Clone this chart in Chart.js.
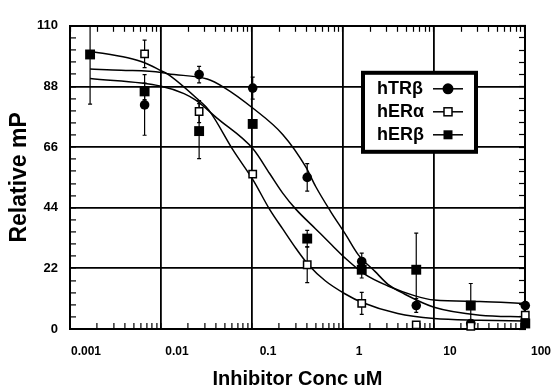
<!DOCTYPE html>
<html lang="en">
<head>
    <meta charset="UTF-8">
    <title>Relative mP vs Inhibitor Conc</title>
    <script src="https://cdn.jsdelivr.net/npm/chart.js"></script>
    <style>
        body { margin: 0; background: #fff; }
        canvas { display: block; }
    </style>
</head>
<body>
    <canvas id="inhibitionChart" width="556" height="387"></canvas>

    <script>
        // Measured points (inhibitor conc, uM)
        const concentrations = [0.001, 0.004, 0.016, 0.0625, 0.25, 1, 4, 16, 64];
        const trbMean = [null, 81.3, 92.3, 87.4, 55.0, 24.5, 8.5, 2.0, 8.5];
        const trbErr  = [0, 11, 3, 4, 5, 3, 2.5, 0, 1];
        const eraMean = [null, 99.8, 78.9, 56.2, 23.3, 9.3, 1.5, 1.0, 5.0];
        const eraErr  = [0, 5, 4, 0, 6.5, 4, 0, 0, 1.5];
        const erbMean = [99.6, 86.2, 71.8, 74.4, 32.8, 21.5, 21.5, 8.5, 2.0];
        const erbErr  = [18, 3, 10, 0, 3, 3, 13.3, 8, 0];

        // Fitted curves
        const trbCurveX = [0.001, 0.0022, 0.0061, 0.0072, 0.0196, 0.030, 0.063, 0.134, 0.241, 0.31, 0.45, 0.658, 0.918, 1.40, 1.95, 2.96, 6.29, 20.2, 64];
        const trbCurveY = [94.3, 93.9, 93.1, 92.6, 90.7, 87.7, 80.1, 70.6, 58.8, 51.7, 42.8, 34.5, 26.9, 20.9, 16.2, 12.7, 7.9, 5.0, 4.4];
        const eraCurveX = [0.001, 0.0026, 0.0040, 0.0061, 0.0072, 0.0159, 0.0204, 0.0383, 0.0632, 0.0961, 0.134, 0.188, 0.2575, 0.398, 0.658, 0.998, 2.5, 6.29, 20.2, 64];
        const eraCurveY = [100.8, 98.4, 96.6, 93.7, 92.5, 83.0, 79.5, 64.7, 54.0, 43.4, 36.3, 29.2, 23.3, 17.4, 12.7, 9.7, 5.6, 3.8, 3.2, 2.9];
        const erbCurveX = [0.001, 0.0061, 0.0109, 0.0147, 0.0252, 0.0632, 0.0961, 0.134, 0.188, 0.31, 0.47, 0.658, 1.087, 1.95, 3.81, 6.29, 20.2, 64];
        const erbCurveY = [90.9, 88.1, 85.4, 83.0, 76.5, 65.3, 56.4, 49.3, 43.4, 36.3, 30.4, 25.7, 19.8, 15.6, 12.1, 10.5, 10.0, 9.3];

        const seriesNames = ['hTRβ', 'hERα', 'hERβ'];
        const xTickLabels = [0.001, 0.01, 0.1, 1, 10, 100];
        const yTickLabels = [0, 22, 44, 66, 88, 110];

        // the printed decade labels sit ~0.2 decade right of the grid lines
        const LABEL_SHIFT = Math.pow(10, 0.197);
        const FONT = '"Liberation Sans", Arial, Helvetica, sans-serif';

        const xMinor = [];
        xTickLabels.forEach((d, i) => {
            xMinor.push(d);
            if (i < xTickLabels.length - 1) {
                for (let k = 2; k <= 9; k++) xMinor.push(d * k);
            }
        });
        const yMinor = [];
        yTickLabels.forEach((v, i) => {
            if (i < yTickLabels.length - 1) {
                const step = (yTickLabels[i + 1] - v) / 5;
                for (let j = 0; j < 5; j++) yMinor.push(j === 0 ? v : v + j * step);
            } else {
                yMinor.push(v);
            }
        });

        const toPoints = (xs, ys) => xs.map((x, i) => ({ x: x, y: ys[i] }));
        const curve = (xs, ys) => ({
            data: toPoints(xs, ys),
            borderColor: '#000',
            borderWidth: 1.5,
            pointRadius: 0,
            fill: false,
            cubicInterpolationMode: 'monotone',
            order: 5
        });
        const markers = (means, style) => Object.assign({
            data: toPoints(concentrations, means),
            showLine: false,
            borderColor: '#000',
            clip: false
        }, style);

        // vertical error bars through the scales
        const errorBars = {
            id: 'errorBars',
            beforeDatasetsDraw(chart) {
                const { ctx, chartArea } = chart;
                const x = chart.scales.x, y = chart.scales.y;
                ctx.save();
                ctx.beginPath();
                ctx.rect(chartArea.left, chartArea.top, chartArea.width, chartArea.height);
                ctx.clip();
                ctx.strokeStyle = '#000';
                ctx.lineWidth = 1.2;
                [[trbMean, trbErr], [eraMean, eraErr], [erbMean, erbErr]].forEach(([means, errs]) => {
                    concentrations.forEach((c, i) => {
                        if (means[i] === null || !errs[i]) return;
                        const px = x.getPixelForValue(c);
                        const top = y.getPixelForValue(means[i] + errs[i]);
                        const bottom = y.getPixelForValue(means[i] - errs[i]);
                        ctx.beginPath();
                        ctx.moveTo(px, top); ctx.lineTo(px, bottom);
                        ctx.moveTo(px - 2, top); ctx.lineTo(px + 2, top);
                        ctx.moveTo(px - 2, bottom); ctx.lineTo(px + 2, bottom);
                        ctx.stroke();
                    });
                });
                ctx.restore();
            }
        };

        // boxed legend inside the plot, text first then line + marker
        const boxLegend = {
            id: 'boxLegend',
            afterDraw(chart) {
                const { ctx, chartArea } = chart;
                const left = chartArea.left + 293, top = chartArea.top + 47;
                ctx.save();
                ctx.fillStyle = '#fff';
                ctx.fillRect(left, top, 113, 79);
                ctx.lineWidth = 4;
                ctx.strokeStyle = '#000';
                ctx.strokeRect(left, top, 113, 79);
                ctx.font = 'bold 18px ' + FONT;
                ctx.textBaseline = 'middle';
                seriesNames.forEach((name, i) => {
                    const ty = top + 16 + i * 23;
                    const mx = left + 85;
                    ctx.fillStyle = '#000';
                    ctx.fillText(name, left + 14, ty);
                    ctx.lineWidth = 1.5;
                    ctx.beginPath();
                    ctx.moveTo(left + 70, ty);
                    ctx.lineTo(left + 100, ty);
                    ctx.stroke();
                    if (i === 0) {
                        ctx.beginPath();
                        ctx.arc(mx, ty, 5.5, 0, Math.PI * 2);
                        ctx.fill();
                    } else if (i === 1) {
                        ctx.fillStyle = '#fff';
                        ctx.fillRect(mx - 4, ty - 4, 8, 8);
                        ctx.strokeRect(mx - 4, ty - 4, 8, 8);
                    } else {
                        ctx.fillRect(mx - 4.5, ty - 4.5, 9, 9);
                    }
                });
                ctx.restore();
            }
        };

        const decadeColor = (c) => c.tick && xTickLabels.includes(c.tick.value) ? '#000' : 'rgba(0,0,0,0)';
        const majorYColor = (c) => c.tick && yTickLabels.includes(c.tick.value) ? '#000' : 'rgba(0,0,0,0)';

        new Chart(document.getElementById('inhibitionChart'), {
            type: 'line',
            data: {
                datasets: [
                    curve(trbCurveX, trbCurveY),
                    curve(eraCurveX, eraCurveY),
                    curve(erbCurveX, erbCurveY),
                    markers(trbMean, { label: seriesNames[0], pointStyle: 'circle', pointRadius: 4.8, backgroundColor: '#000', borderWidth: 0, order: 2 }),
                    markers(eraMean, { label: seriesNames[1], pointStyle: 'rect', pointRadius: 5.2, backgroundColor: '#fff', borderWidth: 1.5, order: 1 }),
                    markers(erbMean, { label: seriesNames[2], pointStyle: 'rect', pointRadius: 7, backgroundColor: '#000', borderWidth: 0, order: 0 })
                ]
            },
            options: {
                responsive: false,
                animation: false,
                devicePixelRatio: 1,
                layout: { padding: { top: 19, left: 0, right: 0, bottom: 0 } },
                plugins: {
                    legend: { display: false },
                    tooltip: { enabled: false }
                },
                scales: {
                    // data axis: printed label positions
                    x: {
                        type: 'logarithmic',
                        display: false,
                        min: xTickLabels[0] / LABEL_SHIFT,
                        max: xTickLabels[xTickLabels.length - 1] / LABEL_SHIFT
                    },
                    // drawn axis: grid lines and inward log ticks
                    xg: {
                        type: 'logarithmic',
                        position: 'bottom',
                        min: xTickLabels[0],
                        max: xTickLabels[xTickLabels.length - 1],
                        afterBuildTicks: (s) => { s.ticks = xMinor.map(v => ({ value: v })); },
                        afterFit: (s) => { s.height = 58; },
                        border: { color: '#000', width: 2 },
                        grid: { color: decadeColor, lineWidth: 1.8, tickColor: '#000', tickWidth: 1.2, tickLength: -6 },
                        ticks: {
                            autoSkip: false,
                            maxRotation: 0,
                            padding: 21,
                            labelOffset: 16,
                            color: '#000',
                            font: { family: FONT, size: 12, weight: 'bold' },
                            callback: (v) => xTickLabels.includes(v) ? String(v) : ''
                        },
                        title: {
                            display: true,
                            text: 'Inhibitor Conc uM',
                            color: '#000',
                            font: { family: FONT, size: 20, weight: 'bold', lineHeight: 0.75 },
                            padding: { top: 0, bottom: 0 }
                        }
                    },
                    xt: {
                        type: 'logarithmic',
                        position: 'top',
                        min: xTickLabels[0],
                        max: xTickLabels[xTickLabels.length - 1],
                        afterBuildTicks: (s) => { s.ticks = xMinor.map(v => ({ value: v })); },
                        afterFit: (s) => { s.height = 0; },
                        border: { color: '#000', width: 2 },
                        grid: { drawOnChartArea: false, tickColor: '#000', tickWidth: 1.2, tickLength: -6 },
                        ticks: { display: false, autoSkip: false }
                    },
                    y: {
                        type: 'linear',
                        position: 'left',
                        min: yTickLabels[0],
                        max: yTickLabels[yTickLabels.length - 1],
                        afterBuildTicks: (s) => { s.ticks = yMinor.map(v => ({ value: v })); },
                        afterFit: (s) => { s.width = 70; },
                        border: { color: '#000', width: 2 },
                        grid: { color: majorYColor, lineWidth: 1.8, tickColor: '#000', tickWidth: 1.2, tickLength: -6 },
                        ticks: {
                            autoSkip: false,
                            padding: 18,
                            color: '#000',
                            font: { family: FONT, size: 13, weight: 'bold' },
                            callback: (v) => yTickLabels.includes(v) ? String(v) : ''
                        },
                        title: {
                            display: true,
                            text: 'Relative mP',
                            color: '#000',
                            font: { family: FONT, size: 23, weight: 'bold', lineHeight: 1.2 },
                            padding: { top: 6, bottom: 0 }
                        }
                    },
                    y2: {
                        type: 'linear',
                        position: 'right',
                        min: yTickLabels[0],
                        max: yTickLabels[yTickLabels.length - 1],
                        afterBuildTicks: (s) => { s.ticks = yMinor.map(v => ({ value: v })); },
                        afterFit: (s) => { s.width = 27; },
                        border: { color: '#000', width: 2 },
                        grid: { drawOnChartArea: false, tickColor: '#000', tickWidth: 1.2, tickLength: -6 },
                        ticks: { display: false, autoSkip: false }
                    }
                }
            },
            plugins: [errorBars, boxLegend]
        });
    </script>
</body>
</html>
